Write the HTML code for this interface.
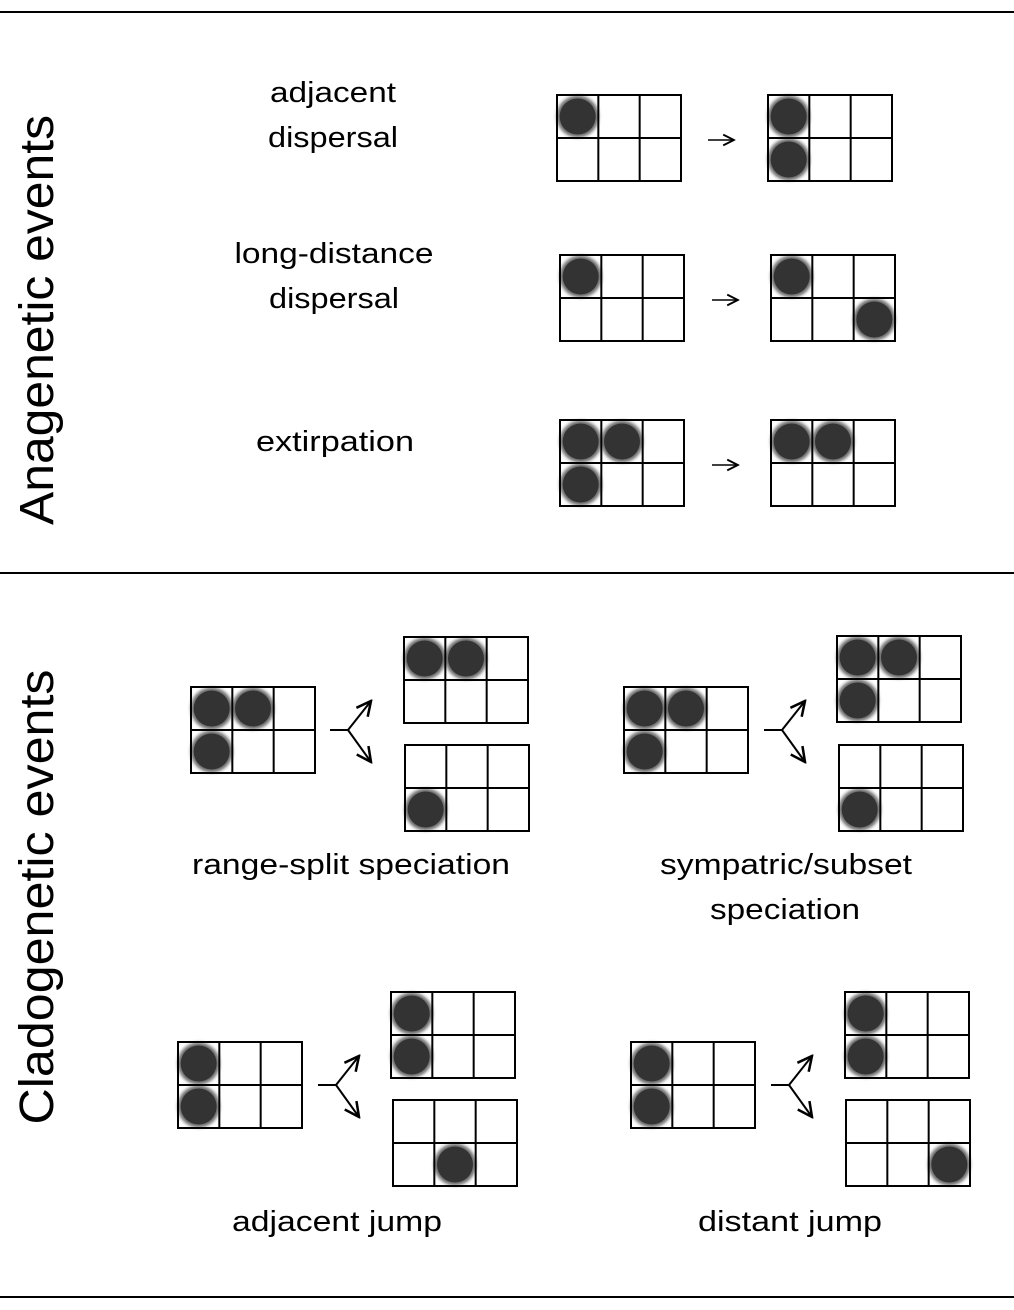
<!DOCTYPE html>
<html><head><meta charset="utf-8"><style>
html,body{margin:0;padding:0;background:#fff;}
svg{display:block;font-family:"Liberation Sans",sans-serif;}
</style></head><body>
<svg id="fig" width="1014" height="1310" viewBox="0 0 1014 1310">
<defs>
<marker id="ah" viewBox="0 0 10 10" refX="9" refY="5" markerWidth="9" markerHeight="9" orient="auto"><path d="M1,1 L9,5 L1,9" fill="none" stroke="#000" stroke-width="1.4"/></marker>
<filter id="blur"><feGaussianBlur stdDeviation="1.5"/></filter>
</defs>
<line x1="0" y1="12" x2="1014" y2="12" stroke="#000" stroke-width="2"/>
<line x1="0" y1="573" x2="1014" y2="573" stroke="#000" stroke-width="2"/>
<line x1="0" y1="1297" x2="1014" y2="1297" stroke="#000" stroke-width="2"/>
<text transform="translate(53,320) rotate(-90)" text-anchor="middle" font-size="48" textLength="410" lengthAdjust="spacingAndGlyphs">Anagenetic events</text>
<text transform="translate(53,897) rotate(-90)" text-anchor="middle" font-size="48" textLength="455" lengthAdjust="spacingAndGlyphs">Cladogenetic events</text>
<g font-size="29" text-anchor="middle" lengthAdjust="spacingAndGlyphs">
<text x="333" y="102" textLength="126" lengthAdjust="spacingAndGlyphs">adjacent</text>
<text x="333" y="147" textLength="130" lengthAdjust="spacingAndGlyphs">dispersal</text>
<text x="334" y="263" textLength="199" lengthAdjust="spacingAndGlyphs">long-distance</text>
<text x="334" y="308" textLength="130" lengthAdjust="spacingAndGlyphs">dispersal</text>
<text x="335" y="451" textLength="158" lengthAdjust="spacingAndGlyphs">extirpation</text>
<text x="351" y="874" textLength="318" lengthAdjust="spacingAndGlyphs">range-split speciation</text>
<text x="786" y="874" textLength="252" lengthAdjust="spacingAndGlyphs">sympatric/subset</text>
<text x="785" y="919" textLength="150" lengthAdjust="spacingAndGlyphs">speciation</text>
<text x="337" y="1231" textLength="210" lengthAdjust="spacingAndGlyphs">adjacent jump</text>
<text x="790" y="1231" textLength="184" lengthAdjust="spacingAndGlyphs">distant jump</text>
</g>
<g id="grids"></g>
</svg>
<script>
const NS="http://www.w3.org/2000/svg";
const gridX=[557,768,560,771,560,771,191,404,405,624,837,839,178,391,393,631,845,846];
const gridY=[95,95,255,255,420,420,687,637,745,687,636,745,1042,992,1100,1042,992,1100];
const gridFilled=[[0],[0,3],[0],[0,5],[0,1,3],[0,1],[0,1,3],[0,1],[3],[0,1,3],[0,1,3],[3],[0,3],[0,3],[4],[0,3],[0,3],[5]];
const arrowX=[708,712,712];
const arrowY=[140,300,465];
const branchX=[330,764,318,771];
const branchY=[730,730,1085,1085];
const root=document.getElementById('grids');
function mk(tag,attrs){const e=document.createElementNS(NS,tag);for(const k in attrs)e.setAttribute(k,attrs[k]);root.appendChild(e);return e;}
const W=124,H=86;
gridX.forEach((x,i)=>{
  const y=gridY[i];
  gridFilled[i].forEach(c=>{
    const cx=x+(c%3+0.5)*W/3, cy=y+(Math.floor(c/3)+0.5)*H/2;
    const halo=mk('circle',{cx:cx,cy:cy,r:21,fill:'#6a6a6a',filter:'url(#blur)'});
    
    
    const b=mk('circle',{cx:cx,cy:cy,r:18,fill:'#333'});
    
    
  });
  const r=mk('rect',{x:x,y:y,width:W,height:H,fill:'none',stroke:'#000','stroke-width':2});
  
  
  const p=mk('path',{d:`M${x+W/3},${y}V${y+H}M${x+2*W/3},${y}V${y+H}M${x},${y+H/2}H${x+W}`,stroke:'#000','stroke-width':2,fill:'none'});
  
  
});
arrowX.forEach((x,i)=>{
  const a=mk('line',{x1:x,y1:arrowY[i],x2:x+26,y2:arrowY[i],stroke:'#000','stroke-width':1.5,'marker-end':'url(#ah)'});
  
  
});
branchX.forEach((x,i)=>{
  const y=branchY[i];
  const s=mk('line',{x1:x,y1:y,x2:x+18,y2:y,stroke:'#000','stroke-width':2});
  
  
  const u=mk('line',{x1:x+18,y1:y,x2:x+41,y2:y-29,stroke:'#000','stroke-width':2,'marker-end':'url(#ah)'});
  
  
  const d=mk('line',{x1:x+18,y1:y,x2:x+41,y2:y+32,stroke:'#000','stroke-width':2,'marker-end':'url(#ah)'});
  
  
});
</script>
</body></html>
